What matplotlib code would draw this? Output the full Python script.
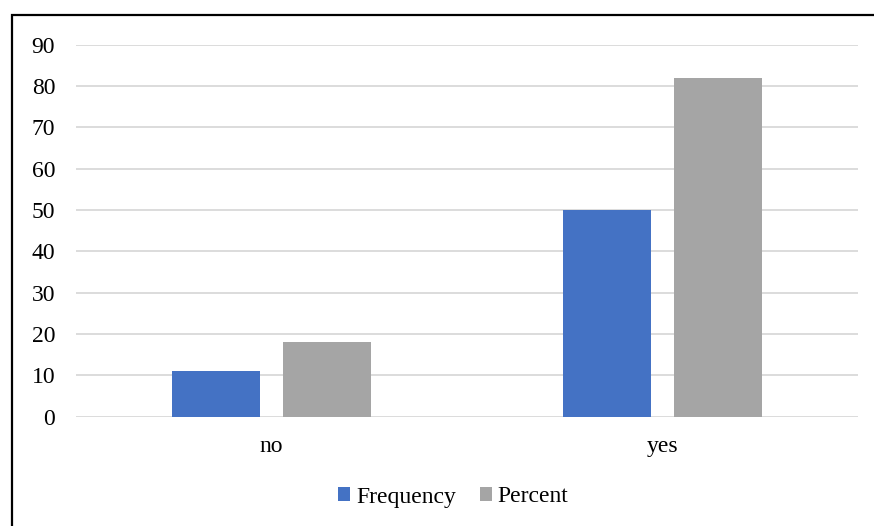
import matplotlib
matplotlib.use("Agg")
import matplotlib.pyplot as plt
from matplotlib.patches import Rectangle
import numpy as np

plt.rcParams["font.family"] = ["Liberation Serif", "DejaVu Serif"]

categories = ["no", "yes"]
frequency = [11, 50]
percent = [18.0, 82.0]
series_names = ["Frequency", "Percent"]
series_colors = ["#4472C4", "#A5A5A5"]
y_ticks = [0, 10, 20, 30, 40, 50, 60, 70, 80, 90]

W, H = 874, 526
fig = plt.figure(figsize=(W / 100, H / 100), dpi=100)

# chart-area frame (only top/left edges fall inside the canvas)
fig.patches.append(Rectangle((12 / W, -0.1), 1.2, (H - 15) / H + 0.1,
                             transform=fig.transFigure, fill=False,
                             edgecolor="black", linewidth=1.6, zorder=0))

ax = fig.add_axes([76 / W, (H - 416.7) / H, 782 / W, 372 / H])
x = np.arange(len(categories))
bw = 0.225
off = 0.1426
ax.bar(x - off, frequency, bw, color=series_colors[0], label=series_names[0], zorder=3)
ax.bar(x + off, percent, bw, color=series_colors[1], label=series_names[1], zorder=3)

ax.set_xlim(-0.5, 1.5)
ax.set_ylim(0, 90)
ax.set_yticks(y_ticks)
ax.set_xticks(x)
ax.set_xticklabels(categories)
ax.yaxis.grid(True, color="#d9d9d9", linewidth=1.3, zorder=0)
ax.set_axisbelow(True)
for s in ax.spines.values():
    s.set_visible(False)
ax.tick_params(axis="both", length=0, labelsize=17, colors="black")
ax.tick_params(axis="y", pad=15)
ax.tick_params(axis="x", pad=14)

fig.legend(loc="center", bbox_to_anchor=(453.5 / W, (H - 497) / H),
           ncol=2, frameon=False, fontsize=17, handlelength=0.51,
           handleheight=0.51, handletextpad=0.25, columnspacing=1.0,
           borderpad=0, borderaxespad=0)

fig.savefig("out.png", dpi=100, facecolor="white")
